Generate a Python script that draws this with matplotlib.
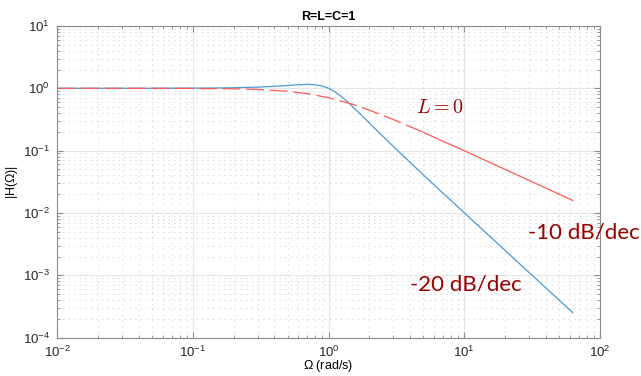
import matplotlib
matplotlib.use("Agg")
import matplotlib.pyplot as plt
import numpy as np

# Valores
omega_rlc = [0.01, 0.05, 0.1, 0.15, 0.2, 0.3, 0.4, 0.5, 0.6, 0.7, 0.8, 0.9, 1.0,
             1.1, 1.2, 1.3, 1.4, 1.5, 1.7, 2.0, 2.5, 3.0, 4.0, 5.0, 7.0, 10.0,
             20.0, 40.0, 63.0]
mag_rlc = [1.0, 1.001, 1.005, 1.011, 1.020, 1.044, 1.075, 1.109, 1.140, 1.155,
           1.140, 1.087, 1.0, 0.893, 0.782, 0.679, 0.589, 0.512, 0.393, 0.277,
           0.172, 0.117, 0.0644, 0.0408, 0.0206, 0.0101, 0.0025, 0.000625,
           0.000252]

omega_rc = [0.01, 0.05, 0.1, 0.2, 0.3, 0.5, 0.7, 1.0, 1.5, 2.0, 3.0, 5.0,
            7.0, 10.0, 20.0, 40.0, 63.0]
mag_rc = [1.0, 0.999, 0.995, 0.981, 0.958, 0.894, 0.819, 0.707, 0.555, 0.447,
          0.316, 0.196, 0.141, 0.0995, 0.050, 0.025, 0.0159]

plt.rcParams["font.family"] = ["Liberation Sans", "DejaVu Sans"]
plt.rcParams["mathtext.fontset"] = "cm"
plt.rcParams["lines.scale_dashes"] = False

fig = plt.figure(figsize=(6.41, 3.76), dpi=100)
ax = fig.add_axes([0.089, 0.102, 0.847, 0.829])

ax.loglog(omega_rlc, mag_rlc, color="#4a9ad6", lw=0.9)

# L=0: discontinua hasta ~5 rad/s y continua despues
w = np.array(omega_rc)
m = np.array(mag_rc)
k = 12
ax.loglog(w[:k], m[:k], color="#ff5a5a", lw=0.9, dashes=(13, 4))
ax.loglog(w[k - 1:], m[k - 1:], color="#ff5a5a", lw=0.9)

ax.set_xlim(1e-2, 1e2)
ax.set_ylim(1e-4, 1e1)
ax.grid(True, which="major", color="#e6e6e6", lw=0.8)
ax.grid(True, which="minor", color="#d4d4d4", lw=0.6, linestyle=(0, (1, 3)))
ax.set_axisbelow(True)
for s in ax.spines.values():
    s.set_color("#8c8c8c")
    s.set_linewidth(0.8)
ax.tick_params(which="both", direction="in", top=True, right=True,
               colors="#8c8c8c", labelcolor="#262626", labelsize=9.5)
ax.tick_params(which="major", length=4)
ax.tick_params(which="minor", length=2)
ax.tick_params(axis="x", which="major", pad=5)
ax.tick_params(axis="y", which="major", pad=5)

ax.set_title("R=L=C=1", fontsize=9, fontweight="bold", pad=4)
ax.set_xlabel(r"$\mathregular{\Omega}$ (rad/s)", fontsize=9, labelpad=-1)
ax.set_ylabel(r"|H($\mathregular{\Omega}$)|", fontsize=9, labelpad=2)

red = "#990000"
ax.text(4.4, 0.5, "$L=0$", color=red, fontsize=14.5, va="center", ha="left")
ax.text(29.5, 0.0048, "-10 dB/dec", color=red, fontsize=16, va="center",
        ha="left", family=["Lato", "DejaVu Sans"])
ax.text(4.0, 0.0007, "-20 dB/dec", color=red, fontsize=16, va="center",
        ha="left", family=["Lato", "DejaVu Sans"])

fig.savefig("out.png", dpi=100)
